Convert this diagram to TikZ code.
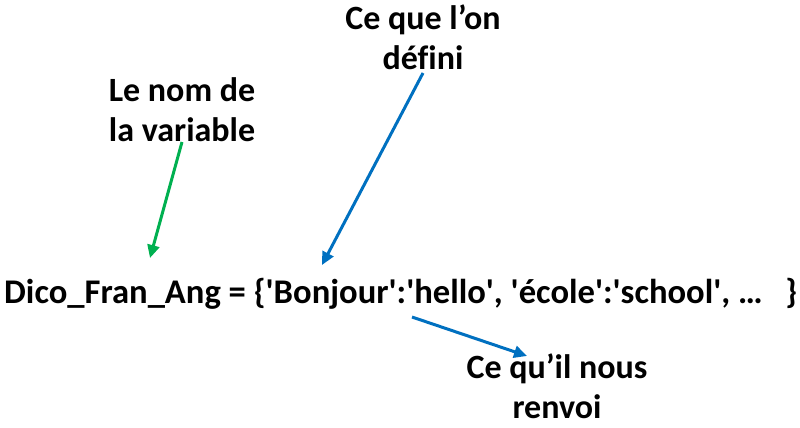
\documentclass[tikz,border=0pt]{standalone}
\usepackage{fontspec}
\setmainfont{Carlito}[Ligatures=CommonOff]
\usetikzlibrary{arrows.meta}
\definecolor{arrgreen}{HTML}{00B050}
\definecolor{arrblue}{HTML}{0070C0}
\newcommand{\sq}{\textquotesingle}
\begin{document}
\begin{tikzpicture}[x=1pt,y=-1pt,
  lbl/.style={font=\bfseries\fontsize{34}{40}\selectfont, align=center, inner sep=0pt, anchor=base},
  arr/.style={line width=3pt, -{Triangle[length=13pt,width=12pt]}}]
\useasboundingbox (0,0) rectangle (800,428);
\node[lbl] (nom) at (182,141) {Le nom de\\la variable};
\node[lbl] (def) at (423,70) {Ce que l’on\\défini};
\node[lbl] (ren) at (557,418) {Ce qu’il nous\\renvoi};
\node[font=\bfseries\fontsize{34.6}{40}\selectfont, inner sep=0pt, anchor=base west] (main) at (4,303)
  {\makebox[793pt][l]{Dico\_Fran\_Ang = \{\sq Bonjour\sq:\sq hello\sq, \sq école\sq:\sq school\sq, …\hfill\}}};
\coordinate (g1) at (182,142);
\coordinate (g2) at (150,258);
\coordinate (b1) at (423,73);
\coordinate (b2) at (322,265);
\coordinate (c1) at (412,317);
\coordinate (c2) at (527,356);
\draw[arr, arrgreen] (g1) -- (g2);
\draw[arr, arrblue] (b1) -- (b2);
\draw[arr, arrblue] (c1) -- (c2);
\end{tikzpicture}
\end{document}
